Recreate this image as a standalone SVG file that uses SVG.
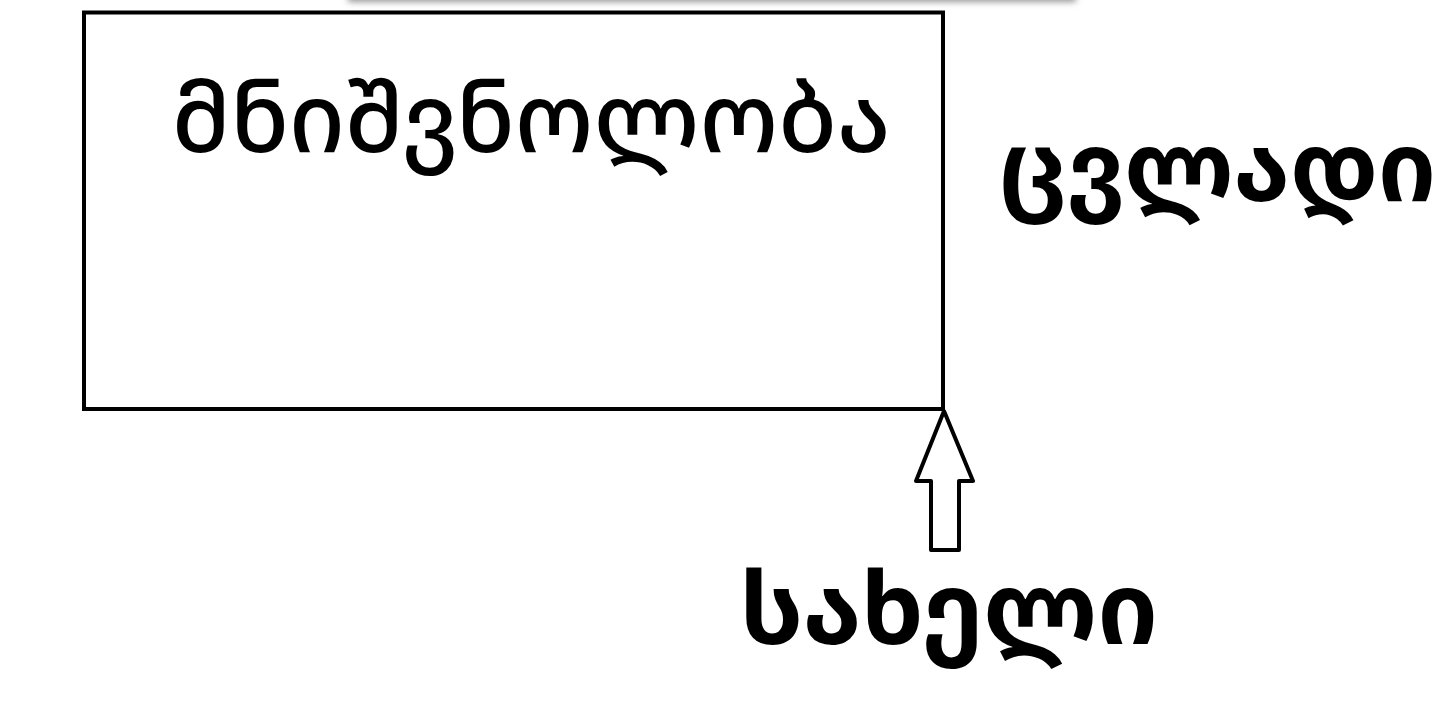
<svg xmlns="http://www.w3.org/2000/svg" width="1446" height="724" viewBox="0 0 1446 724">
<defs>
<style>
.t{font-family:"Noto Sans Georgian","DejaVu Sans",sans-serif;fill:#000}
.m{font-weight:500}
.b{font-weight:bold}
.s{fill:#fff;stroke:#000;stroke-width:4}
</style>
<filter id="sh" x="-10%" y="-100%" width="120%" height="300%"><feGaussianBlur stdDeviation="3"/></filter>
</defs>
<rect width="1446" height="724" fill="#fff"/>
<rect x="348" y="-40" width="728" height="42" fill="#999" filter="url(#sh)"/>
<rect x="346" y="-40" width="728" height="40" fill="#fff"/>
<g id="box">
<rect class="s" x="84" y="12.5" width="859" height="396.5"/>
<text class="t m" x="172" y="152" font-size="96">მნიშვნოლობა</text>
</g>
<g id="variable">
<text class="t b" x="999" y="201" font-size="96">ცვლადი</text>
</g>
<g id="name">
<text class="t b" x="740" y="644" font-size="100">სახელი</text>
</g>
<g id="connectors">
<path class="s" d="M944 411 L973 481 L959 481 L959 550 L931 550 L931 481 L916 481 Z" stroke-linejoin="round"/>
</g>
</svg>
